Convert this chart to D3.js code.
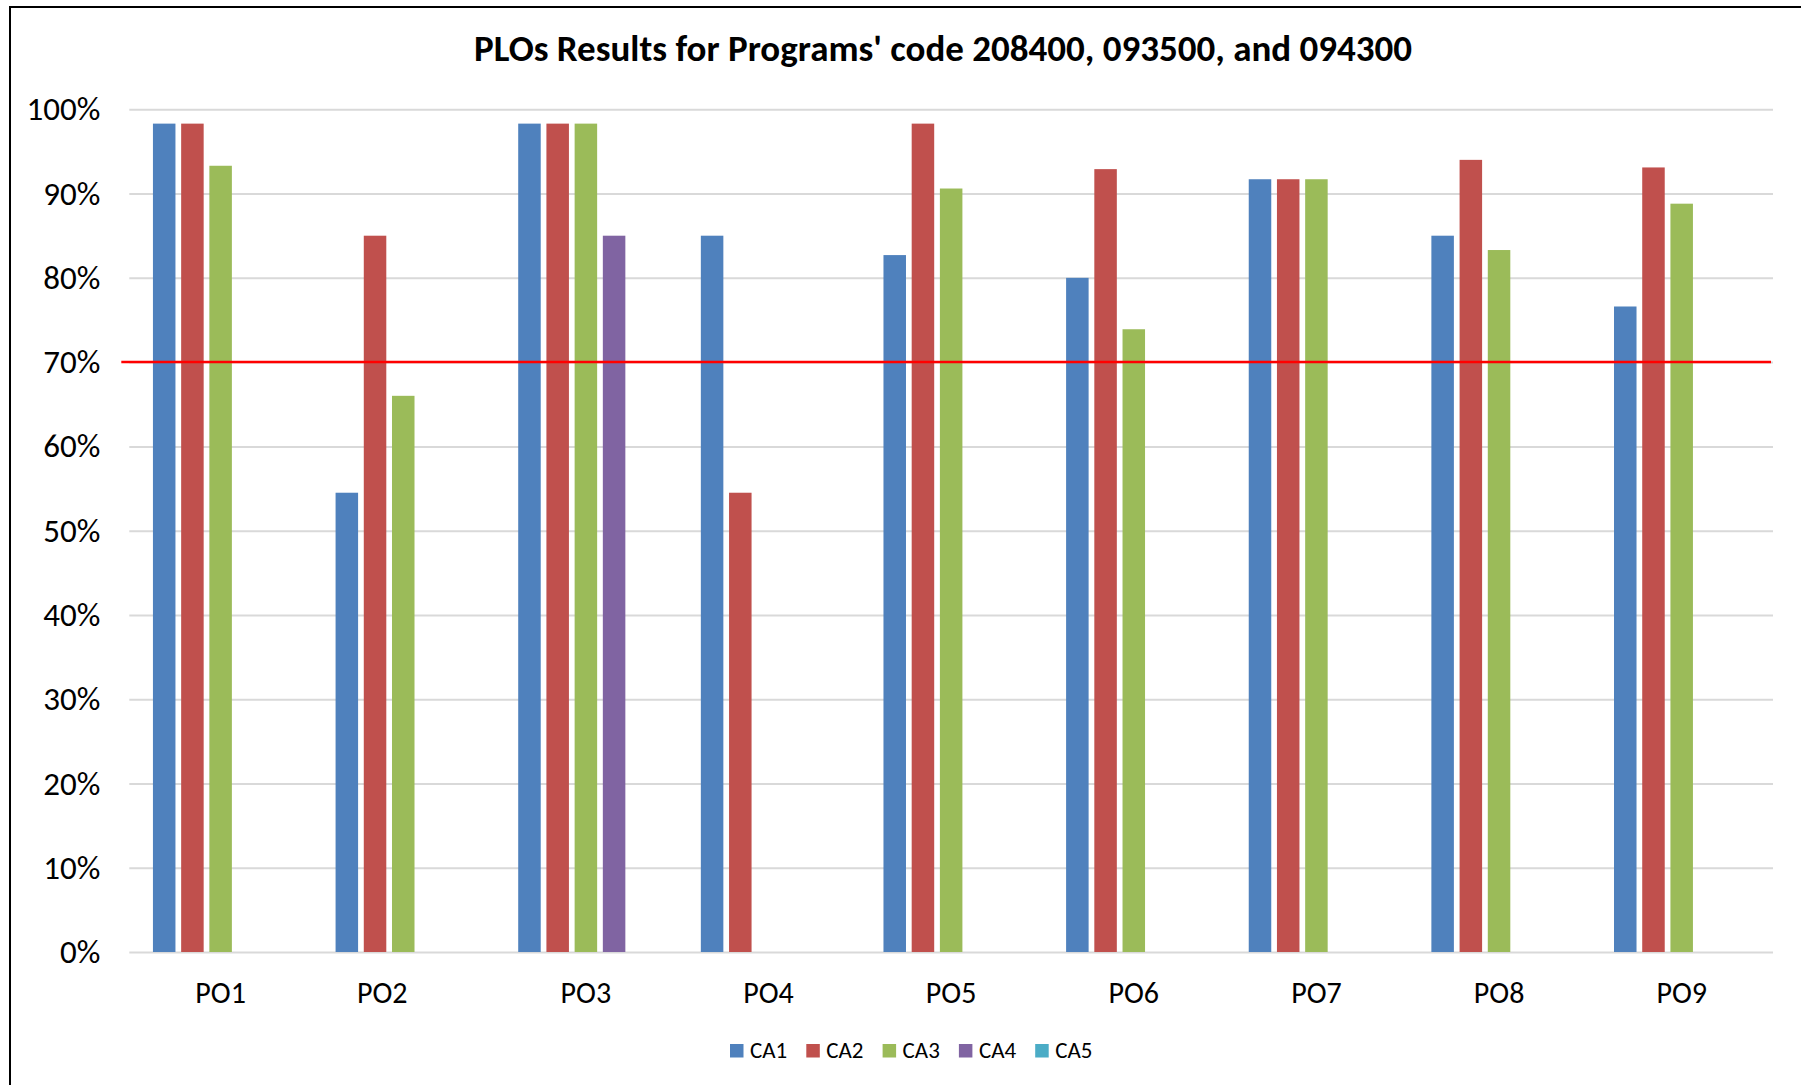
<!DOCTYPE html>
<html>
<head>
<meta charset="utf-8">
<script src="https://cdn.jsdelivr.net/npm/d3@7"></script>
<style>
  body { margin: 0; background: #fff; }
  svg { display: block; font-family: Calibri, Carlito, Lato, sans-serif; }
</style>
</head>
<body>
<svg id="chart" width="1801" height="1085"></svg>
<script>
// chart values
const categories = ['PO1', 'PO2', 'PO3', 'PO4', 'PO5', 'PO6', 'PO7', 'PO8', 'PO9'];
const seriesNames = ['CA1', 'CA2', 'CA3', 'CA4', 'CA5'];
const ca1 = [98.3, 54.5, 98.3, 85, 82.7, 80, 91.7, 85, 76.6];
const ca2 = [98.3, 85, 98.3, 54.5, 98.3, 92.9, 91.7, 94.0, 93.1];
const ca3 = [93.3, 66, 98.3, null, 90.6, 73.9, 91.7, 83.3, 88.8];
const ca4 = [null, null, 85, null, null, null, null, null, null];
const ca5 = [null, null, null, null, null, null, null, null, null];
const yTicks = [0, 10, 20, 30, 40, 50, 60, 70, 80, 90, 100];
const target = 70;
const title = "PLOs Results for Programs' code 208400, 093500, and 094300";

const colors = ['#4f81bd', '#c0504d', '#9bbb59', '#8064a2', '#4bacc6'];
const seriesValues = [ca1, ca2, ca3, ca4, ca5];

const svg = d3.select('#chart');
const plot = {left: 129.3, right: 1773, top: 109.3, bottom: 952};

// frame
svg.append('rect')
   .attr('x', 10)
   .attr('y', 7)
   .attr('width', 1900)
   .attr('height', 1200)
   .attr('fill', 'none')
   .attr('stroke', '#000')
   .attr('stroke-width', 2);

svg.append('text')
   .attr('x', 943)
   .attr('y', 61)
   .attr('text-anchor', 'middle')
   .attr('font-weight', 'bold')
   .attr('font-size', '37px')
   .attr('fill', '#000')
   .text(title);

let xScale = d3.scaleBand()
               .domain(categories)
               .range([plot.left, plot.right])
               .paddingInner(0)
               .paddingOuter(0);
let subScale = d3.scaleBand()
                 .domain(seriesNames)
                 .range([0, xScale.bandwidth()])
                 .paddingInner(0.202)
                 .paddingOuter(0.838);
let yScale = d3.scaleLinear()
               .domain([0, 100])
               .range([plot.bottom, plot.top]);

// gridlines + y labels
let yAxis = svg.append('g')
   .attr('transform', 'translate(' + plot.left + ',0)')
   .call(d3.axisLeft(yScale)
           .tickValues(yTicks)
           .tickSize(-(plot.right - plot.left))
           .tickPadding(29)
           .tickFormat(d => d + '%'))
   .attr('font-family', null)
   .attr('font-size', null);
yAxis.select('.domain').remove();
yAxis.selectAll('line')
     .attr('stroke', '#d9d9d9')
     .attr('stroke-width', 2);
yAxis.selectAll('text')
     .attr('fill', '#000')
     .attr('font-size', '33px');

// bars
seriesValues.forEach(function(vals, s){
  svg.append('g')
     .selectAll('rect')
     .data(categories.map((c, i) => ({cat: c, v: vals[i]})).filter(d => d.v != null))
     .enter()
     .append('rect')
     .attr('x', d => xScale(d.cat) + subScale(seriesNames[s]))
     .attr('y', d => yScale(d.v))
     .attr('width', subScale.bandwidth())
     .attr('height', d => yScale(0) - yScale(d.v))
     .attr('fill', colors[s]);
});

// target line
svg.append('line')
   .attr('x1', plot.left - 8)
   .attr('x2', plot.right - 2)
   .attr('y1', yScale(target))
   .attr('y2', yScale(target))
   .attr('stroke', '#ff0000')
   .attr('stroke-width', 2.5);

// category labels
let xAxis = svg.append('g')
   .attr('transform', 'translate(0,' + plot.bottom + ')')
   .call(d3.axisBottom(xScale).tickSize(0).tickPadding(30))
   .attr('font-family', null)
   .attr('font-size', null);
xAxis.select('.domain').remove();
xAxis.selectAll('text')
     .attr('fill', '#000')
     .attr('font-size', '30px')
     .attr('dx', d => d === 'PO2' ? -21 : 0);

// legend
let legend = svg.append('g').attr('transform', 'translate(730,1044)');
let item = legend.selectAll('g')
   .data(seriesNames)
   .enter()
   .append('g')
   .attr('transform', (d, i) => 'translate(' + (i * 76.3) + ',0)');
item.append('rect')
    .attr('width', 13.5)
    .attr('height', 13.5)
    .attr('fill', (d, i) => colors[i]);
item.append('text')
    .attr('x', 20)
    .attr('y', 14)
    .attr('font-size', '23px')
    .attr('fill', '#000')
    .text(d => d);
</script>
</body>
</html>
